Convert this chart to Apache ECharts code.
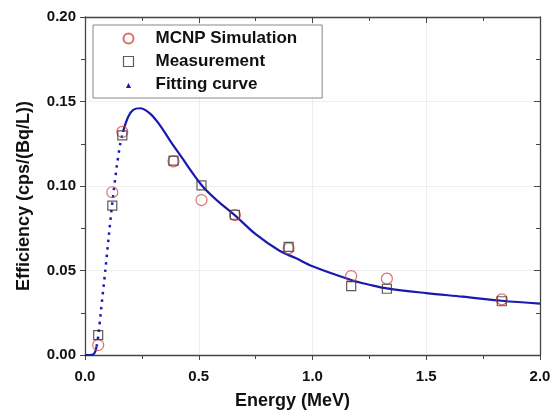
<!DOCTYPE html>
<html>
<head>
<meta charset="utf-8">
<script src="https://cdn.jsdelivr.net/npm/echarts@6/dist/echarts.min.js"></script>
<style>
  html, body { margin: 0; padding: 0; background: #fff; }
  #chart { width: 558px; height: 416px; }
</style>
</head>
<body>
<div id="chart"></div>
<script>
// energies of the source lines (MeV)
const energies = [0.058, 0.12, 0.164, 0.389, 0.512, 0.659, 0.895, 1.17, 1.327, 1.832];
const mcnpEff = [0.0059, 0.0963, 0.132, 0.1146, 0.0917, 0.0828, 0.0631, 0.0467, 0.0452, 0.0329];
const measEff = [0.0118, 0.0884, 0.130, 0.115, 0.1004, 0.083, 0.064, 0.0408, 0.0392, 0.0318];

// fitting curve
const fitLowE = [0, 0.02, 0.036, 0.045, 0.051];
const fitLowY = [0, 0, 0.0003, 0.002, 0.005];
const fitRiseE = [0.051, 0.058, 0.07, 0.09, 0.105, 0.12, 0.14, 0.155, 0.167];
const fitRiseY = [0.005, 0.011, 0.026, 0.051, 0.071, 0.090, 0.112, 0.125, 0.132];
const fitE = [0.167, 0.19, 0.212, 0.241, 0.285, 0.329, 0.373, 0.417, 0.512, 0.58, 0.658, 0.75, 0.855, 0.928, 1.0, 1.17, 1.25, 1.327, 1.5, 1.66, 1.832, 2.0];
const fitY = [0.132, 0.141, 0.145, 0.146, 0.143, 0.136, 0.127, 0.1185, 0.1006, 0.0915, 0.0828, 0.0715, 0.0617, 0.0572, 0.0525, 0.0444, 0.0416, 0.0394, 0.0366, 0.0345, 0.0321, 0.0304];

const xTicks = [0, 0.5, 1.0, 1.5, 2.0];
const yTicks = [0, 0.05, 0.10, 0.15, 0.20];

const zip = (a, b) => a.map((v, i) => [v, b[i]]);

const blue = "#1a1ab0";
const axisColor = "#444";
const font = "'Liberation Sans', Arial, sans-serif";

const chart = echarts.init(document.getElementById("chart"));

const baseX = {
  type: "value",
  min: xTicks[0],
  max: xTicks[xTicks.length - 1],
  interval: 0.5,
  axisLine: { show: true, onZero: false, lineStyle: { color: axisColor, width: 1.3 } },
  minorTick: { show: true, splitNumber: 2, length: 4, lineStyle: { color: axisColor } },
};
const baseY = {
  type: "value",
  min: yTicks[0],
  max: yTicks[yTicks.length - 1],
  interval: 0.05,
  axisLine: { show: true, onZero: false, lineStyle: { color: axisColor, width: 1.3 } },
  minorTick: { show: true, splitNumber: 2, length: 4, lineStyle: { color: axisColor } },
};

const option = {
  animation: false,
  backgroundColor: "#fff",
  textStyle: { fontFamily: font },
  grid: { left: 85, right: 18, top: 17, bottom: 61 },
  legend: {
    orient: "vertical",
    left: 93,
    top: 25,
    padding: [5, 25, 5, 29],
    itemWidth: 10,
    itemHeight: 10,
    itemGap: 6,
    borderColor: "#888",
    borderWidth: 1,
    backgroundColor: "#fff",
    textStyle: { fontSize: 17, fontWeight: "bold", color: "#111", fontFamily: font, padding: [0, 0, 0, 17] },
    data: [
      { name: "MCNP Simulation", icon: "circle" },
      { name: "Measurement", icon: "rect", itemStyle: { borderWidth: 1.2 } },
      { name: "Fitting curve", icon: "triangle", itemStyle: { color: blue, borderColor: "#fff", borderWidth: 3 } },
    ],
  },
  xAxis: [
    Object.assign({}, baseX, {
      position: "bottom",
      name: "Energy (MeV)",
      nameLocation: "middle",
      nameGap: 37,
      nameTextStyle: { fontSize: 18, fontWeight: "bold", color: "#111", padding: [0, 40, 0, 0] },
      axisTick: { show: true, inside: false, length: 5, lineStyle: { color: axisColor } },
      axisLabel: {
        margin: 14,
        fontSize: 15,
        fontWeight: "bold",
        color: "#111",
        formatter: (v) => v.toFixed(1),
      },
      splitLine: { show: true, lineStyle: { color: "#eeeeee", width: 1 } },
    }),
    Object.assign({}, baseX, {
      position: "top",
      axisTick: { show: true, inside: true, length: 6, lineStyle: { color: axisColor } },
      axisLabel: { show: false },
      splitLine: { show: false },
    }),
  ],
  yAxis: [
    Object.assign({}, baseY, {
      position: "left",
      name: "Efficiency (cps/(Bq/L))",
      nameLocation: "middle",
      nameGap: 52,
      nameTextStyle: { fontSize: 18, fontWeight: "bold", color: "#111", padding: [0, 20, 0, 0] },
      axisTick: { show: true, inside: false, length: 5, lineStyle: { color: axisColor } },
      axisLabel: {
        margin: 9,
        fontSize: 15,
        fontWeight: "bold",
        color: "#111",
        formatter: (v) => v.toFixed(2),
      },
      splitLine: { show: true, lineStyle: { color: "#eeeeee", width: 1 } },
    }),
    Object.assign({}, baseY, {
      position: "right",
      axisTick: { show: true, inside: true, length: 6, lineStyle: { color: axisColor } },
      axisLabel: { show: false },
      splitLine: { show: false },
    }),
  ],
  series: [
    {
      name: "fitLow",
      type: "line",
      data: zip(fitLowE, fitLowY),
      showSymbol: false,
      smooth: 0.3,
      lineStyle: { color: blue, width: 2.2 },
      silent: true,
      z: 2,
    },
    {
      name: "fitRise",
      type: "line",
      data: zip(fitRiseE, fitRiseY),
      showSymbol: false,
      smooth: 0.3,
      lineStyle: { color: blue, width: 2.5, type: [2.5, 5] },
      silent: true,
      z: 2,
    },
    {
      name: "Fitting curve",
      type: "line",
      data: zip(fitE, fitY),
      showSymbol: false,
      symbol: "triangle",
      smooth: 0.35,
      itemStyle: { color: blue },
      lineStyle: { color: blue, width: 2.2 },
      z: 2,
    },
    {
      name: "MCNP Simulation",
      type: "scatter",
      data: zip(energies, mcnpEff),
      symbol: "circle",
      symbolSize: 11,
      itemStyle: { color: "rgba(0,0,0,0)", borderColor: "#d44a4a", borderWidth: 1.2 },
      z: 3,
    },
    {
      name: "Measurement",
      type: "scatter",
      data: zip(energies, measEff),
      symbol: "rect",
      symbolSize: 9,
      itemStyle: { color: "rgba(0,0,0,0)", borderColor: "#333", borderWidth: 1.2 },
      z: 4,
    },
  ],
};

chart.setOption(option);
</script>
</body>
</html>
